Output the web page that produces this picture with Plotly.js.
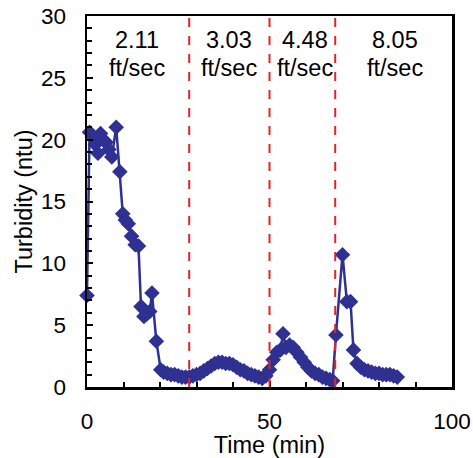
<!DOCTYPE html>
<html>
<head>
<meta charset="utf-8">
<script src="https://cdn.plot.ly/plotly-3.0.1.min.js"></script>
<style>html,body{margin:0;padding:0;background:#fff;}#chart{width:473px;height:458px;}</style>
</head>
<body>
<div id="chart"></div>
<script>
// Time (min) and turbidity (ntu)
const timeMin = [0, 0.7, 1.5, 2.3, 3.0, 3.7, 4.4, 5.2, 6.0, 6.8, 8.0, 9.0, 9.8, 10.5, 11.3, 12.2, 13.2, 14.1, 14.8, 15.6, 16.4, 17.2, 17.8, 19.0, 20.2,
  21, 22, 23, 24, 25, 26, 27, 28, 29, 30, 31, 32, 33, 34, 35, 36, 37, 38, 39, 40, 41, 42, 43, 44, 45, 46, 47, 48, 49,
  50, 51, 52, 53, 53.7, 54.5, 55.5, 56.5, 57.5, 58.5, 59.5, 60.5, 61.5, 62.5, 63.5, 64.5, 65.5, 66.5, 67.3,
  68.2, 70.0, 71.2, 72.2, 73.0, 74.0, 75, 76, 77, 78, 79, 80, 81, 82, 83, 84, 85];
const turbidity = [7.4, 20.6, 20.2, 19.6, 18.9, 20.5, 20.0, 19.8, 19.2, 18.6, 21.0, 17.4, 14.0, 13.5, 13.2, 12.2, 11.5, 11.4, 6.5, 5.7, 5.9, 6.1, 7.6, 3.7, 1.4,
  1.2, 1.1, 1.0, 1.0, 0.9, 0.8, 0.8, 0.8, 0.9, 1.0, 1.1, 1.3, 1.5, 1.7, 1.9, 2.0, 2.0, 1.9, 1.9, 1.8, 1.6, 1.4, 1.3, 1.1, 1.0, 0.9, 0.8, 0.7, 0.9,
  1.4, 2.2, 2.8, 3.0, 4.3, 3.2, 3.4, 3.2, 2.8, 2.4, 2.0, 1.6, 1.3, 1.1, 1.0, 0.8, 0.7, 0.6, 0.5,
  4.2, 10.7, 6.9, 6.9, 3.0, 1.9, 1.6, 1.4, 1.3, 1.2, 1.1, 1.1, 1.0, 1.0, 1.0, 0.9, 0.8];
// velocity change times and labels
const changeTimes = [28, 50, 68];
const velocityX = [13.7, 39.0, 59.7, 84.4];
const velocityValues = ['2.11', '3.03', '4.48', '8.05'];
const velocityUnit = 'ft/sec';

const FONT = 'Arial, "Liberation Sans", sans-serif';
const navy = '#2E3192';

const trace = {
  x: timeMin, y: turbidity, type: 'scatter', mode: 'lines+markers',
  line: {color: navy, width: 2.5},
  marker: {symbol: 'diamond', size: 12, color: navy},
  cliponaxis: false,
  hoverinfo: 'skip', showlegend: false
};

const shapes = changeTimes.map(t => ({
  type: 'line', xref: 'x', yref: 'paper', x0: t, x1: t, y0: 0, y1: 1,
  line: {color: '#E0262B', width: 2, dash: 'dash'}
}));

const annotations = [];
velocityX.forEach((x, i) => {
  annotations.push({x: x, y: 28.05, xref: 'x', yref: 'y', text: velocityValues[i], showarrow: false,
    font: {family: FONT, size: 23.5, color: '#000'}});
  annotations.push({x: x, y: 25.8, xref: 'x', yref: 'y', text: velocityUnit, showarrow: false,
    font: {family: FONT, size: 23.5, color: '#000'}});
});

const axisCommon = {
  showgrid: false, zeroline: false, showline: true, linecolor: '#000', linewidth: 2.5, mirror: true,
  ticks: 'inside', ticklen: 6, tickwidth: 2, tickcolor: '#000',
  tickfont: {family: FONT, size: 22.5, color: '#000'}
};

const layout = {
  width: 473, height: 458,
  margin: {l: 87, r: 21, t: 16, b: 71},
  paper_bgcolor: '#fff', plot_bgcolor: '#fff',
  xaxis: Object.assign({}, axisCommon, {
    range: [0, 100], dtick: 50, tick0: 0,
    minor: {dtick: 10, ticks: 'inside', ticklen: 5, tickwidth: 2, tickcolor: '#000'},
    ticklabelstandoff: 12,
    title: {text: 'Time (min)', font: {family: FONT, size: 23.5, color: '#000'}, standoff: 5}
  }),
  yaxis: Object.assign({}, axisCommon, {
    range: [0, 30], dtick: 5, tick0: 0,
    minor: {dtick: 1, ticks: 'inside', ticklen: 5, tickwidth: 2, tickcolor: '#000'},
    ticklabelstandoff: 14,
    title: {text: 'Turbidity (ntu)', font: {family: FONT, size: 23.5, color: '#000'}, standoff: 2}
  }),
  shapes: shapes,
  annotations: annotations
};

Plotly.newPlot('chart', [trace], layout, {displayModeBar: false, staticPlot: true});
</script>
</body>
</html>
